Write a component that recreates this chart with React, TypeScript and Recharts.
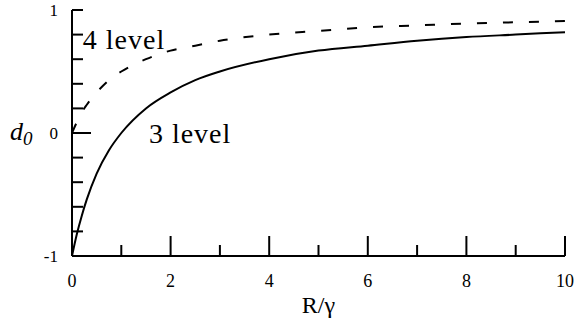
import React from 'react';
import { LineChart, Line, XAxis, YAxis, ReferenceDot } from 'recharts';

// values (R/γ on x, d0 on y)
const R_VALUES = [0, 0.1, 0.2, 0.3, 0.5, 0.75, 1, 1.5, 2, 2.5, 3, 4, 5, 6, 7, 8, 9, 10];
const THREE_LEVEL = [-1, -0.82, -0.67, -0.54, -0.33, -0.14, 0, 0.2, 0.33, 0.43, 0.5, 0.6, 0.67, 0.71, 0.75, 0.78, 0.8, 0.82];
const FOUR_LEVEL = [0, 0.09, 0.17, 0.23, 0.33, 0.43, 0.5, 0.6, 0.67, 0.71, 0.75, 0.8, 0.83, 0.86, 0.875, 0.89, 0.9, 0.91];

const X_TICKS = [0, 1, 2, 3, 4, 5, 6, 7, 8, 9, 10];
const X_LABELS = [0, 2, 4, 6, 8, 10];
const Y_TICKS = [-1, -0.8, -0.6, -0.4, -0.2, 0, 0.2, 0.4, 0.6, 0.8, 1];
const Y_LABELS = [-1, 0, 1];

const chartData = R_VALUES.map((r, i) => ({ r, three: THREE_LEVEL[i], four: FOUR_LEVEL[i] }));

const serif = { fontFamily: "'Liberation Serif', 'Times New Roman', serif" };

const BottomTick = (props: any) => {
  const { x, y, payload } = props;
  const major = payload.value % 2 === 0;
  return (
    <g>
      <line x1={x} x2={x} y1={y} y2={y - (major ? 20 : 11)} stroke="#000" strokeWidth={2} />
      {X_LABELS.includes(payload.value) && (
        <text x={x} y={y + 31} textAnchor="middle" style={serif} fontSize={18} fill="#000">
          {payload.value}
        </text>
      )}
    </g>
  );
};

const TopTick = (props: any) => {
  const { x, y, payload } = props;
  const major = payload.value % 2 === 0;
  return <line x1={x} x2={x} y1={y} y2={y + (major ? 17 : 10)} stroke="#000" strokeWidth={2} />;
};

const LeftTick = (props: any) => {
  const { x, y, payload } = props;
  const major = payload.value === 0;
  return (
    <g>
      <line x1={x} x2={x + (major ? 19 : 11)} y1={y} y2={y} stroke="#000" strokeWidth={2} />
      {Y_LABELS.includes(payload.value) && (
        <text x={x - 14} y={y} dy="0.35em" textAnchor="end" style={serif} fontSize={17} fill="#000">
          {payload.value}
        </text>
      )}
    </g>
  );
};

const RightTick = (props: any) => {
  const { x, y, payload } = props;
  const major = payload.value === 0;
  return <line x1={x} x2={x - (major ? 19 : 11)} y1={y} y2={y} stroke="#000" strokeWidth={2} />;
};

const annotation = (text: string) => (props: any) => {
  const { viewBox } = props;
  return (
    <text x={viewBox.x} y={viewBox.y} style={serif} fontSize={28} letterSpacing={1} fill="#000">
      {text}
    </text>
  );
};

export default function App() {
  const axisLine = { stroke: '#000', strokeWidth: 2 };
  return (
    <div style={{ position: 'absolute', left: 0, top: 0, width: 574, height: 333, background: '#fff' }}>
      <LineChart width={574} height={333} data={chartData} margin={{ top: 10, right: 9, bottom: 27, left: 12 }}>
        <XAxis
          xAxisId="b"
          dataKey="r"
          type="number"
          domain={[0, 10]}
          ticks={X_TICKS}
          interval={0}
          height={50}
          tickSize={0}
          tickMargin={0}
          tickLine={false}
          axisLine={axisLine}
          tick={BottomTick}
          label={{
            content: (p: any) => (
              <text
                x={p.viewBox.x + p.viewBox.width / 2}
                y={p.viewBox.y + 57}
                textAnchor="middle"
                style={serif}
                fontSize={24}
                fill="#000"
              >
                R/γ
              </text>
            ),
          }}
        />
        <XAxis
          xAxisId="t"
          orientation="top"
          dataKey="r"
          type="number"
          domain={[0, 10]}
          allowDataOverflow
          ticks={X_TICKS}
          interval={0}
          height={0}
          tickSize={0}
          tickMargin={0}
          tickLine={false}
          axisLine={axisLine}
          tick={TopTick}
        />
        <YAxis
          yAxisId="l"
          type="number"
          domain={[-1, 1]}
          allowDataOverflow
          ticks={Y_TICKS}
          interval={0}
          width={60}
          tickSize={0}
          tickMargin={0}
          tickLine={false}
          axisLine={axisLine}
          tick={LeftTick}
          label={{
            content: () => (
              <text x={10} y={140} style={serif} fontStyle="italic" fill="#000">
                <tspan fontSize={26}>d</tspan>
                <tspan fontSize={19} dy={5}>0</tspan>
              </text>
            ),
          }}
        />
        <YAxis
          yAxisId="r"
          orientation="right"
          type="number"
          domain={[-1, 1]}
          allowDataOverflow
          ticks={Y_TICKS}
          interval={0}
          width={0}
          tickSize={0}
          tickMargin={0}
          tickLine={false}
          axisLine={axisLine}
          tick={RightTick}
        />
        <Line
          xAxisId="b"
          yAxisId="l"
          type="monotone"
          dataKey="four"
          stroke="#000"
          strokeWidth={2}
          strokeDasharray="10 16"
          dot={false}
          isAnimationActive={false}
        />
        <Line
          xAxisId="b"
          yAxisId="l"
          type="monotone"
          dataKey="three"
          stroke="#000"
          strokeWidth={2}
          dot={false}
          isAnimationActive={false}
        />
        <ReferenceDot
          xAxisId="b"
          yAxisId="l"
          x={0.22}
          y={0.68}
          r={0}
          fill="none"
          stroke="none"
          label={{ content: annotation('4 level') }}
        />
        <ReferenceDot
          xAxisId="b"
          yAxisId="l"
          x={1.56}
          y={-0.08}
          r={0}
          fill="none"
          stroke="none"
          label={{ content: annotation('3 level') }}
        />
      </LineChart>
    </div>
  );
}
